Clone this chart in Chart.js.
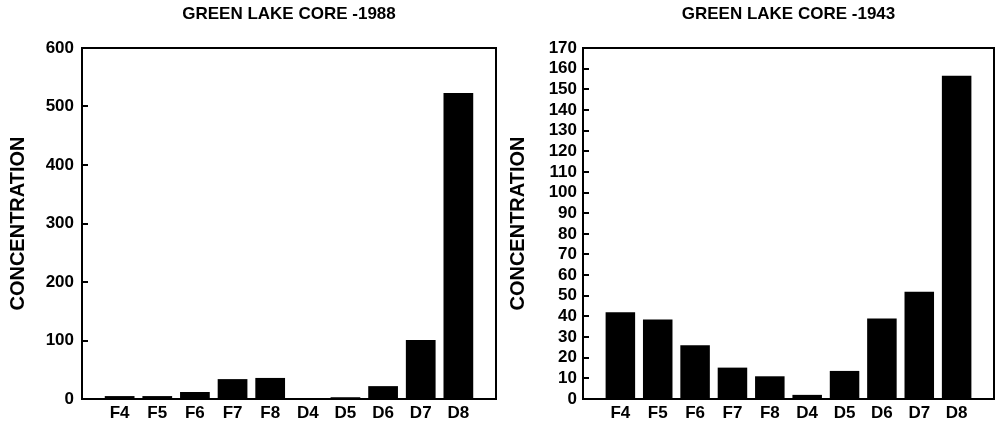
<!DOCTYPE html>
<html>
<head>
<meta charset="utf-8">
<script src="https://cdn.jsdelivr.net/npm/chart.js@4.4.1/dist/chart.umd.min.js"></script>
<style>
  html, body { margin: 0; padding: 0; background: #fff; }
  body { width: 998px; height: 426px; position: relative; overflow: hidden; }
  canvas { position: absolute; top: 0; }
  #c1 { left: 0; }
  #c2 { left: 500px; }
</style>
</head>
<body>
<canvas id="c1" width="500" height="426"></canvas>
<canvas id="c2" width="498" height="426"></canvas>
<script>
// ---- data ----
const categories = ['F4', 'F5', 'F6', 'F7', 'F8', 'D4', 'D5', 'D6', 'D7', 'D8'];
const core1988 = [5, 5, 12, 34, 36, 1, 3, 22, 101, 523];
const core1943 = [42, 38.5, 26, 15.2, 11, 2, 13.6, 39, 52, 156.5];
const ticks1988 = [0, 100, 200, 300, 400, 500, 600];
const ticks1943 = [0, 10, 20, 30, 40, 50, 60, 70, 80, 90, 100, 110, 120, 130, 140, 150, 160, 170];
const title1988 = 'GREEN LAKE CORE -1988';
const title1943 = 'GREEN LAKE CORE -1943';
const yTitle = 'CONCENTRATION';

const FONT = "'Liberation Sans', Arial, Helvetica, sans-serif";

const framePlugin = {
  id: 'frame',
  afterDraw(chart) {
    const { ctx, chartArea: a } = chart;
    const y = chart.scales.y;
    ctx.save();
    ctx.strokeStyle = '#000';
    ctx.lineWidth = 2;
    ctx.strokeRect(a.left, a.top, a.right - a.left, a.bottom - a.top);
    y.ticks.forEach((t, i) => {
      const py = Math.round(y.getPixelForTick(i));
      ctx.beginPath();
      ctx.moveTo(a.left, py);
      ctx.lineTo(a.left + 6, py);
      ctx.stroke();
    });
    ctx.restore();
  }
};

function makeChart(id, values, tickVals, title, yWidth, rightPad, labelPad) {
  const labels = ['', ...categories, ''];
  const data = [null, ...values, null];
  return new Chart(document.getElementById(id), {
    type: 'bar',
    data: {
      labels: labels,
      datasets: [{
        data: data,
        backgroundColor: '#000',
        borderWidth: 0,
        categoryPercentage: 1,
        barPercentage: 0.79
      }]
    },
    plugins: [framePlugin],
    options: {
      responsive: false,
      animation: false,
      layout: { padding: { left: 0, right: rightPad, top: 0, bottom: 0 } },
      plugins: {
        legend: { display: false },
        tooltip: { enabled: false },
        title: {
          display: true,
          text: title,
          fullSize: false,
          color: '#000',
          font: { family: FONT, size: 17, weight: 'bold' },
          padding: { top: 4, bottom: 23.6 }
        }
      },
      scales: {
        x: {
          type: 'category',
          offset: false,
          grid: { display: false, drawTicks: false },
          border: { display: false },
          ticks: {
            color: '#000',
            font: { family: FONT, size: 17, weight: 'bold' },
            padding: 4,
            maxRotation: 0,
            autoSkip: false
          },
          afterFit(scale) { scale.height = 27; }
        },
        y: {
          min: tickVals[0],
          max: tickVals[tickVals.length - 1],
          afterBuildTicks(scale) { scale.ticks = tickVals.map(v => ({ value: v })); },
          grid: { display: false, drawTicks: false },
          border: { display: false },
          ticks: {
            color: '#000',
            font: { family: FONT, size: 17, weight: 'bold' },
            padding: labelPad,
            autoSkip: false
          },
          title: {
            display: true,
            text: yTitle,
            color: '#000',
            font: { family: FONT, size: 20, weight: 'bold' },
            padding: { top: 6, bottom: 0 }
          },
          afterFit(scale) { scale.width = yWidth; }
        }
      }
    }
  });
}

makeChart('c1', core1988, ticks1988, title1988, 82, 2, 8);
makeChart('c2', core1943, ticks1943, title1943, 83, 1, 6);
</script>
</body>
</html>
